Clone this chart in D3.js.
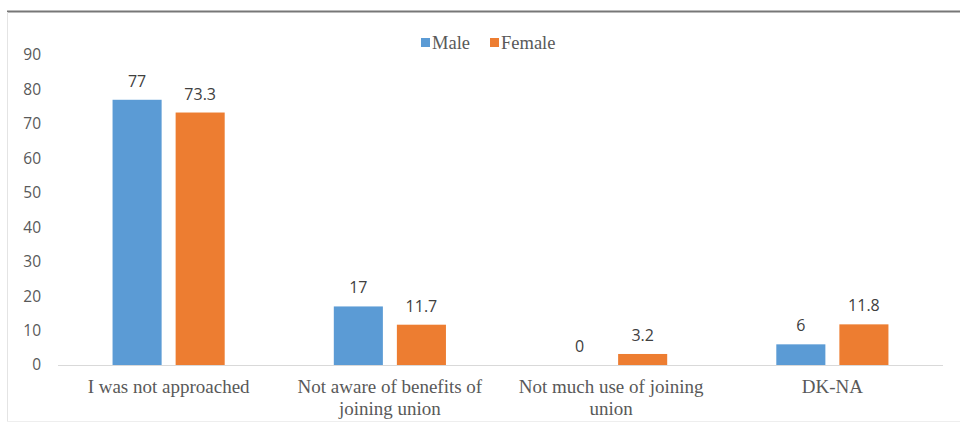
<!DOCTYPE html>
<html>
<head>
<meta charset="utf-8">
<script src="https://cdn.jsdelivr.net/npm/d3@7"></script>
<style>
  html, body { margin: 0; padding: 0; background: #fff; }
  svg { display: block; }
</style>
</head>
<body>
<svg id="chart" width="960" height="424"></svg>
<script>
// Reasons for not joining a union, by gender (%)
const categories = [
  ["I was not approached"],
  ["Not aware of benefits of", "joining union"],
  ["Not much use of joining", "union"],
  ["DK-NA"]
];
const seriesNames = ["Male", "Female"];
const maleValues = [77, 17, 0, 6];
const femaleValues = [73.3, 11.7, 3.2, 11.8];
const yTicks = [0, 10, 20, 30, 40, 50, 60, 70, 80, 90];
const colors = ["#5B9BD5", "#ED7D31"];

const svg = d3.select("#chart");
const W = 960, H = 424;
const margin = { left: 58, right: 17, top: 55, bottom: 59 };

// Frame around the chart area
svg.append("line").attr("x1", 7).attr("x2", W).attr("y1", 11.5).attr("y2", 11.5)
  .attr("stroke", "#777").attr("stroke-width", 2);
svg.append("line").attr("x1", 7.5).attr("x2", 7.5).attr("y1", 12).attr("y2", 421)
  .attr("stroke", "#e4e4e4").attr("stroke-width", 1);
svg.append("line").attr("x1", 7).attr("x2", W).attr("y1", 421.5).attr("y2", 421.5)
  .attr("stroke", "#eeeeee").attr("stroke-width", 1);

const x0 = d3.scaleBand()
  .domain(d3.range(categories.length))
  .range([margin.left, W - margin.right])
  .paddingInner(0).paddingOuter(0);

const x1 = d3.scaleBand()
  .domain(seriesNames)
  .range([0, x0.bandwidth()])
  .paddingInner(0.222)
  .paddingOuter(0.865);

const y = d3.scaleLinear().domain([0, 90]).range([H - margin.bottom, margin.top]);

// Y axis tick labels (no axis line)
const yAxis = d3.axisLeft(y).tickValues(yTicks).tickSize(0).tickPadding(0);
const gy = svg.append("g").attr("transform", `translate(${margin.left - 17},0)`).call(yAxis);
gy.select(".domain").remove();
gy.selectAll("text")
  .attr("fill", "#595959")
  .style("font-family", "'Open Sans', sans-serif")
  .style("font-size", "15.5px");

// Baseline
svg.append("line")
  .attr("x1", margin.left).attr("x2", W - margin.right)
  .attr("y1", y(0) + 0.5).attr("y2", y(0) + 0.5)
  .attr("stroke", "#d9d9d9").attr("stroke-width", 1);

const data = categories.map((c, i) => ({
  i,
  values: [
    { key: "Male", v: maleValues[i] },
    { key: "Female", v: femaleValues[i] }
  ]
}));

const groups = svg.append("g").selectAll("g").data(data).join("g")
  .attr("transform", d => `translate(${x0(d.i)},0)`);

groups.selectAll("rect").data(d => d.values).join("rect")
  .attr("x", d => x1(d.key))
  .attr("width", x1.bandwidth())
  .attr("y", d => y(d.v))
  .attr("height", d => y(0) - y(d.v))
  .attr("fill", d => colors[seriesNames.indexOf(d.key)]);

groups.selectAll("text.val").data(d => d.values).join("text")
  .attr("class", "val")
  .attr("x", d => x1(d.key) + x1.bandwidth() / 2)
  .attr("y", d => y(d.v) - 13)
  .attr("text-anchor", "middle")
  .attr("fill", "#404040")
  .style("font-family", "'Open Sans', sans-serif")
  .style("font-size", "16px")
  .text(d => d.v);

// Category labels
const catG = svg.append("g");
categories.forEach((lines, i) => {
  const cx = x0(i) + x0.bandwidth() / 2;
  const t = catG.append("text")
    .attr("x", cx)
    .attr("y", y(0) + 28)
    .attr("text-anchor", "middle")
    .attr("fill", "#595959")
    .style("font-family", "'Liberation Serif', 'Times New Roman', serif")
    .style("font-size", "19px");
  lines.forEach((ln, k) => {
    t.append("tspan").attr("x", cx).attr("dy", k === 0 ? 0 : 22).text(ln);
  });
});

// Legend
const legend = svg.append("g").attr("transform", "translate(421,43)");
const legendX = [0, 69];
seriesNames.forEach((name, k) => {
  const g = legend.append("g").attr("transform", `translate(${legendX[k]},0)`);
  g.append("rect").attr("x", 0).attr("y", -5).attr("width", 9).attr("height", 9).attr("fill", colors[k]);
  g.append("text").attr("x", 11).attr("y", 6)
    .attr("fill", "#595959")
    .style("font-family", "'Liberation Serif', 'Times New Roman', serif")
    .style("font-size", "18.5px")
    .text(name);
});
</script>
</body>
</html>
